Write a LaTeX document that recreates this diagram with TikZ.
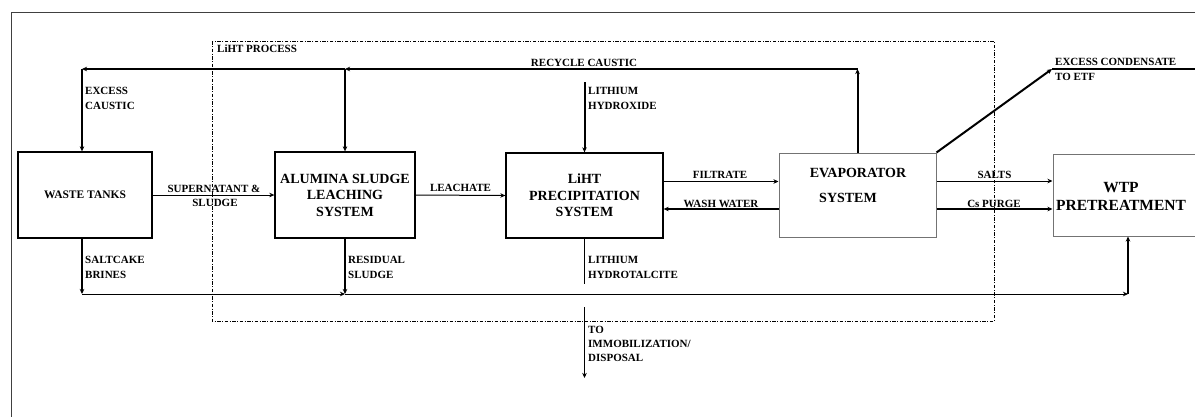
\documentclass[tikz,border=0pt]{standalone}
\usepackage{fontspec}
\setmainfont{Liberation Serif}
\usetikzlibrary{arrows.meta}
\begin{document}
\begin{tikzpicture}[x=1pt,y=-1pt,
  box/.style={draw, line width=1.3pt, inner sep=0pt, align=center},
  gbox/.style={draw=black!55, line width=1pt, inner sep=0pt},
  bigtxt/.style={font=\fontsize{14}{16.5}\selectfont\bfseries},
  lab/.style={font=\fontsize{11}{15}\selectfont\bfseries, inner sep=0pt, align=left},
  arr/.style={-{Stealth[length=5pt,width=4.5pt,inset=1.5pt]}, line width=1pt},
  thk/.style={line width=2pt},
  mid/.style={line width=1.5pt},
  procbox/.style={draw, line width=0.9pt, dash pattern=on 3.5pt off 1.5pt on 1pt off 1.5pt}
  ]
\useasboundingbox (0,0) rectangle (1195,416);
\clip (0,0) rectangle (1195,416);
\draw[line width=1pt, black!75] (11.5,12.5) rectangle (1215,430);
% LiHT process boundary
\draw[procbox] (212,41) rectangle (994,321);
\node[lab, anchor=west] (proc) at (217,49) {LiHT PROCESS};
% boxes
\node[box, minimum width=134pt, minimum height=86pt, font=\fontsize{11.5}{14}\selectfont\bfseries] (wt) at (85,195) {WASTE TANKS};
\node[box, bigtxt, minimum width=140pt, minimum height=86pt] (al) at (345,195) {ALUMINA SLUDGE\\LEACHING\\SYSTEM};
\node[box, bigtxt, minimum width=157pt, minimum height=85pt] (li) at (584.5,195.5) {LiHT\\PRECIPITATION\\SYSTEM};
\node[gbox, minimum width=157pt, minimum height=84pt] (ev) at (857.5,195) {};
\node[bigtxt, inner sep=0pt] (evt1) at (858,173) {EVAPORATOR};
\node[bigtxt, inner sep=0pt] (evt2) at (848,198) {SYSTEM};
\node[gbox, minimum width=157pt, minimum height=82pt] (wtp) at (1131.5,195) {};
\node[align=center, inner sep=0pt, font=\fontsize{15.5}{18}\selectfont\bfseries] (wtpt) at (1121,196) {WTP\\PRETREATMENT};
% recycle caustic
\coordinate (rc) at (857.5,69);
\coordinate (ra) at (345,69);
\coordinate (rw) at (82,69);
\draw[arr, thk] (ev.north) -- (rc);
\draw[arr, mid] (rc) -- (ra);
\draw[arr, mid] (ra) -- (rw);
\draw[arr, thk] (rw) -- (rw |- wt.north);
\draw[arr, thk] (ra) -- (al.north);
\node[lab, anchor=center] (rcl) at (584,63) {RECYCLE CAUSTIC};
\node[lab, anchor=north west] (ecl) at (85,87.3) {EXCESS\\CAUSTIC};
% lithium hydroxide
\coordinate (lh) at (584.5,82);
\draw[arr, thk] (lh) -- (li.north);
\node[lab, anchor=north west] (lhl) at (588,87.3) {LITHIUM\\HYDROXIDE};
% horizontal flows
\draw[arr] (wt.east) -- (al.west);
\node[lab, anchor=center] (snl1) at (214,189) {SUPERNATANT \&};
\node[lab, anchor=center] (snl2) at (215,202.5) {SLUDGE};
\draw[arr] (al.east) -- (li.west);
\node[lab, anchor=center] (lcl) at (460.5,188) {LEACHATE};
\draw[arr] ([yshift=14pt]li.east) -- ([yshift=14pt]li.east -| ev.west);
\node[lab, anchor=center] (ftl) at (720,175) {FILTRATE};
\draw[arr, mid] ([yshift=-14pt]ev.west) -- ([yshift=-14pt]ev.west -| li.east);
\node[lab, anchor=center] (wwl) at (721,203.5) {WASH WATER};
\draw[arr] ([yshift=14pt]ev.east) -- ([yshift=14pt]ev.east -| wtp.west);
\node[lab, anchor=center] (sal) at (994.5,175) {SALTS};
\draw[arr, mid] ([yshift=-14pt]ev.east) -- ([yshift=-14pt]ev.east -| wtp.west);
\node[lab, anchor=center] (csl) at (994,204) {Cs PURGE};
% excess condensate
\coordinate (ec) at (1052,69);
\coordinate (ece) at (1215,69);
\draw[arr, thk] (ev.north east) -- (ec);
\draw[thk] (ec) -- (ece);
\node[lab, anchor=north west] (ecdl) at (1055,58.3) {EXCESS CONDENSATE\\TO ETF};
% bottom flows
\coordinate (sb) at (82,294);
\coordinate (rs) at (345,294);
\coordinate (wb) at (1128,294);
\draw[arr, line width=1.3pt] (sb |- wt.south) -- (sb);
\draw[arr, line width=1.3pt] (al.south) -- (rs);
\draw[arr] (sb) -- (rs);
\draw[arr] (rs) -- (wb);
\draw[arr, line width=1.3pt] (wb) -- (wb |- wtp.south);
\node[lab, anchor=north west] (sbl) at (85,256.3) {SALTCAKE\\BRINES};
\node[lab, anchor=north west] (rsl) at (348,256.3) {RESIDUAL\\SLUDGE};
% hydrotalcite and disposal
\coordinate (ht) at (584.5,284);
\coordinate (d1) at (584.5,307);
\coordinate (d2) at (584.5,378);
\draw[mid] (li.south) -- (ht);
\draw[arr, mid] (d1) -- (d2);
\node[lab, anchor=north west] (htl) at (588,256.3) {LITHIUM\\HYDROTALCITE};
\node[lab, anchor=north west, font=\fontsize{11}{13.7}\selectfont\bfseries] (dpl) at (588,326.3) {TO\\IMMOBILIZATION/\\DISPOSAL};
\end{tikzpicture}
\end{document}
